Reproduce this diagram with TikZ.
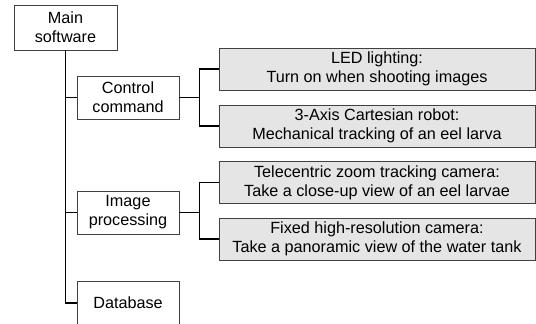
\documentclass[tikz,border=0pt]{standalone}
\usepackage{fontspec}
\setmainfont{Liberation Sans}
\begin{document}
\begin{tikzpicture}[x=1pt,y=-1pt,
  box/.style={draw=black!75, line width=0.9pt, align=center, inner sep=0pt,
    font=\fontsize{16.2}{18.8}\selectfont},
  modbox/.style={box, fill=white, minimum width=102pt, minimum height=43pt},
  itembox/.style={box, fill=black!10, minimum width=316pt, minimum height=42pt},
  link/.style={draw=black, line width=1.8pt}]
\clip (0,0) rectangle (536,324);
\useasboundingbox (0,0) rectangle (536,324);
\fill[white] (0,0) rectangle (536,324);

% top-level module and sub-modules
\node[modbox, minimum width=103pt, minimum height=45pt] (main) at (65.5,27.5) {Main\\software};
\node[modbox] (ctrl) at (128,97.5) {Control\\command};
\node[modbox] (img) at (128,212.5) {Image\\processing};
\node[modbox, minimum height=44pt] (db) at (128,303) {Database};

% hardware / function boxes
\node[itembox] (led) at (377,69) {LED lighting:\\Turn on when shooting images};
\node[itembox] (robot) at (377,126) {3-Axis Cartesian robot:\\Mechanical tracking of an eel larva};
\node[itembox] (tele) at (377,182.5) {Telecentric zoom tracking camera:\\Take a close-up view of an eel larvae};
\node[itembox] (fixed) at (377,239) {Fixed high-resolution camera:\\Take a panoramic view of the water tank};

% trunk from main software to its modules
\draw[link] (main.south) |- (db.west);
\draw[link] (main.south |- ctrl.west) -- (ctrl.west);
\draw[link] (main.south |- img.west) -- (img.west);

% brackets to the right-hand boxes
\draw[link] (ctrl.east) -- ++(20,0) coordinate (cj);
\draw[link] (led.west) -| (cj) |- (robot.west);
\draw[link] (img.east) -- ++(20,0) coordinate (ij);
\draw[link] (tele.west) -| (ij) |- (fixed.west);
\end{tikzpicture}
\end{document}
